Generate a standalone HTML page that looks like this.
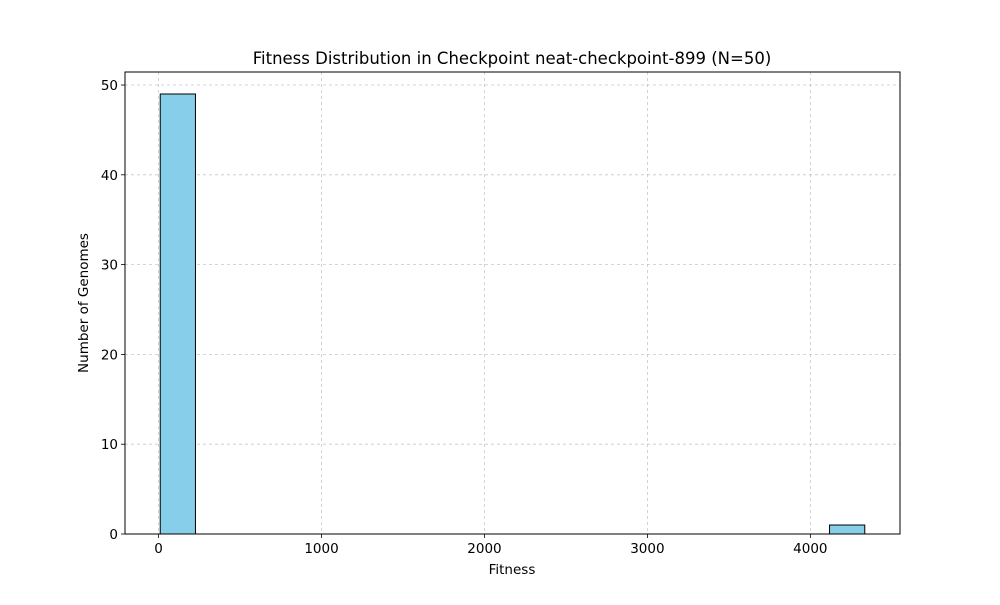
<!DOCTYPE html>
<html><head><meta charset="utf-8"><style>
body{margin:0;background:#fff;font-family:"Liberation Sans","DejaVu Sans",sans-serif;}
svg text{font-family:"DejaVu Sans","Liberation Sans",sans-serif;}
</style></head><body>
<svg id="chart" width="1000" height="600" viewBox="0 0 1000 600">
<rect width="1000" height="600" fill="#fff"/>
<g id="grid"></g><g id="bars"></g><g id="axes"></g>
<text x="512" y="64" font-size="16.5" text-anchor="middle">Fitness Distribution in Checkpoint neat-checkpoint-899 (N=50)</text>
<text x="512" y="574" font-size="13.5" text-anchor="middle">Fitness</text>
<text x="88" y="303" font-size="13.5" text-anchor="middle" transform="rotate(-90 88 303)">Number of Genomes</text>
</svg>
<script>
const binMin = 10;
const binMax = 4334;
const binCounts = [49,0,0,0,0,0,0,0,0,0,0,0,0,0,0,0,0,0,0,1];
const xTicks = [0,1000,2000,3000,4000];
const yTicks = [0,10,20,30,40,50];

const L=125,R=900,T=72,B=534;
const span=binMax-binMin, xmin=binMin-span*0.05, xmax=binMax+span*0.05;
const ymax=Math.max(...binCounts)*1.05;
const sx=v=>L+(v-xmin)/(xmax-xmin)*(R-L);
const sy=v=>B-v/ymax*(B-T);
const NS="http://www.w3.org/2000/svg";
function mk(tag,attrs,parent,txt){const e=document.createElementNS(NS,tag);for(const k in attrs)e.setAttribute(k,attrs[k]);if(txt!==undefined)e.textContent=txt;parent.appendChild(e);return e;}
const grid=document.getElementById('grid'),bars=document.getElementById('bars'),axes=document.getElementById('axes');
xTicks.forEach(t=>{const x=sx(t);
 const g=mk('line',{x1:x,x2:x,y1:T,y2:B,stroke:'#b0b0b0','stroke-width':0.8,'stroke-dasharray':'3,3',opacity:0.7},grid);
 
 
 mk('line',{x1:x,x2:x,y1:B,y2:B+4,stroke:'#000','stroke-width':0.8},axes);
 const lb=mk('text',{x:x,y:B+19,'font-size':13.5,'text-anchor':'middle'},axes,String(t));
 
 
});
yTicks.forEach(t=>{const y=sy(t);
 const g=mk('line',{x1:L,x2:R,y1:y,y2:y,stroke:'#b0b0b0','stroke-width':0.8,'stroke-dasharray':'3,3',opacity:0.7},grid);
 
 
 mk('line',{x1:L-4,x2:L,y1:y,y2:y,stroke:'#000','stroke-width':0.8},axes);
 const lb=mk('text',{x:L-7,y:y+5,'font-size':13.5,'text-anchor':'end'},axes,String(t));
 
 
});
const bw=span/binCounts.length;
binCounts.forEach((c,i)=>{if(c<=0)return;
 const x0=sx(binMin+i*bw),x1=sx(binMin+(i+1)*bw);
 const r=mk('rect',{x:x0,y:sy(c),width:x1-x0,height:B-sy(c),fill:'#87ceeb',stroke:'#000','stroke-width':1},bars);
 
 
});
const f=mk('rect',{x:L,y:T,width:R-L,height:B-T,fill:'none',stroke:'#000','stroke-width':1},axes);


</script>
</body></html>
